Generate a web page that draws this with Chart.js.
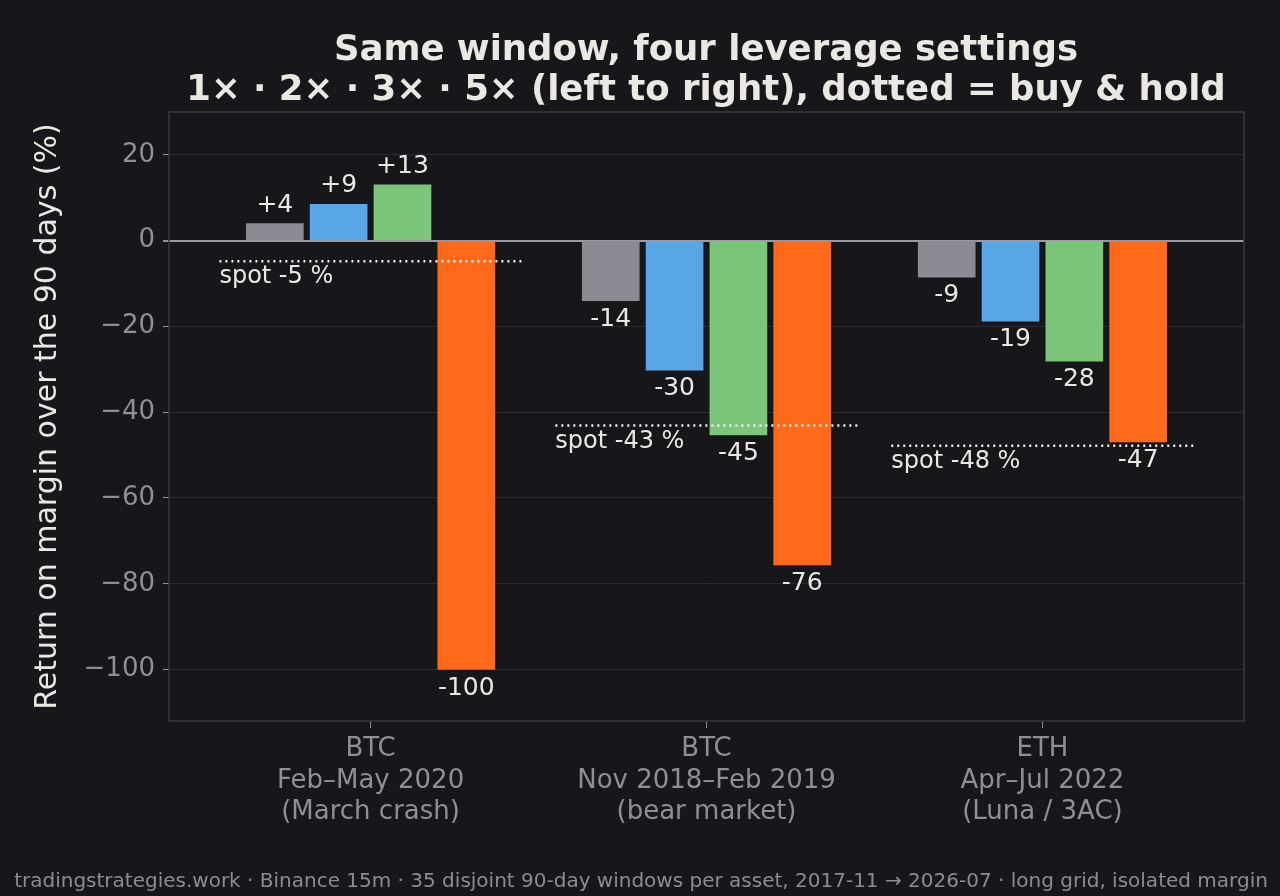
<!DOCTYPE html>
<html><head><meta charset="utf-8">
<script src="https://cdn.jsdelivr.net/npm/chart.js@4/dist/chart.umd.min.js"></script>
<style>html,body{margin:0;background:#17161b}canvas{display:block}</style>
</head><body><div style="width:1280px;height:896px"><canvas id="c"></canvas></div>
<script>
const windowLabels = [["BTC","Feb–May 2020","(March crash)"],["BTC","Nov 2018–Feb 2019","(bear market)"],["ETH","Apr–Jul 2022","(Luna / 3AC)"]];
const leverageNames = ["1×","2×","3×","5×"];
const ret1x = [4, -14, -8.5];
const ret2x = [8.5, -30.2, -18.8];
const ret3x = [13, -45.3, -28.1];
const ret5x = [-100, -75.6, -46.9];
const retLabels = [["+4","-14","-9"],["+9","-30","-19"],["+13","-45","-28"],["-100","-76","-47"]];
const spotReturns = [-4.8, -43.1, -47.8];
const spotLabels = ["spot -5 %","spot -43 %","spot -48 %"];
const colors = ["#8a8a94","#58a6e6","#7cc67c","#ff6a1a"];
const series = [ret1x, ret2x, ret3x, ret5x];
const step = 0.19, half = 0.45;
const datasets = series.map((s,k)=>({type:'bar',label:leverageNames[k],data:s.map((v,i)=>({x:i+(k-1.5)*step,y:v})),backgroundColor:colors[k],barThickness:57,grouped:false,order:2}));
spotReturns.forEach((v,i)=>datasets.push({type:'line',data:[{x:i-half,y:v},{x:i+half,y:v}],borderColor:'#f0f0f0',borderWidth:2.5,borderDash:[2,4],pointRadius:0,order:1}));
const plug={id:'p',afterDatasetsDraw(ch){const c=ch.ctx,a=ch.chartArea,x=ch.scales.x,y=ch.scales.y;c.save();
c.strokeStyle='#3a3a42';c.lineWidth=1.5;c.strokeRect(a.left,a.top,a.right-a.left,a.bottom-a.top);
c.font='25px "DejaVu Sans"';c.fillStyle='#ebe8e3';c.textAlign='center';
series.forEach((s,k)=>s.forEach((v,i)=>{const px=x.getPixelForValue(i+(k-1.5)*step),py=y.getPixelForValue(v);
c.textBaseline=v>=0?'bottom':'top';c.fillText(retLabels[k][i],px,v>=0?py-6:py+6);}));
c.textAlign='left';c.textBaseline='top';c.font='24px "DejaVu Sans"';
spotReturns.forEach((v,i)=>{c.fillText(spotLabels[i],x.getPixelForValue(i-half),y.getPixelForValue(v)+4);});
c.textAlign='center';c.font='bold 35.5px "DejaVu Sans"';c.textBaseline='alphabetic';
c.fillText('Same window, four leverage settings',706,60);
c.fillText('1× · 2× · 3× · 5× (left to right), dotted = buy & hold',706,100);
c.font='20px "DejaVu Sans"';c.fillStyle='#8c8c92';c.fillText('tradingstrategies.work · Binance 15m · 35 disjoint 90-day windows per asset, 2017-11 → 2026-07 · long grid, isolated margin',641,887);
c.restore();}};
new Chart(document.getElementById('c'),{data:{datasets},plugins:[plug],options:{responsive:true,maintainAspectRatio:false,animation:false,
layout:{padding:{top:112,right:36,bottom:40,left:0}},
plugins:{legend:{display:false},tooltip:{enabled:false}},
scales:{x:{type:'linear',offset:false,min:-0.6,max:2.6,afterFit(s){s.height=135;},
 afterBuildTicks(s){s.ticks=[0,1,2].map(v=>({value:v}));},
 ticks:{color:'#8f8f95',font:{size:26,family:'DejaVu Sans'},padding:6,maxRotation:0,callback:(v)=>windowLabels[v]||''},
 grid:{drawOnChartArea:false,color:'#8f8f95',tickLength:7,offset:false},border:{display:false}},
y:{min:-112,max:30,afterFit(s){s.width=169;},
 afterBuildTicks(s){s.ticks=[20,0,-20,-40,-60,-80,-100].map(v=>({value:v}));},
 ticks:{color:'#8f8f95',font:{size:26,family:'DejaVu Sans'},padding:8,callback:v=>String(v).replace('-','−')},
 grid:{color:c=>c.tick&&c.tick.value===0?'#9a9aa0':'#2a2a31',lineWidth:c=>c.tick&&c.tick.value===0?2:1,tickLength:6,tickColor:'#8f8f95'},border:{display:false},
 title:{display:true,text:'Return on margin over the 90 days (%)',color:'#ebe8e3',font:{size:30,family:'DejaVu Sans'},padding:{top:30,bottom:10}}}}}});
</script></body></html>
